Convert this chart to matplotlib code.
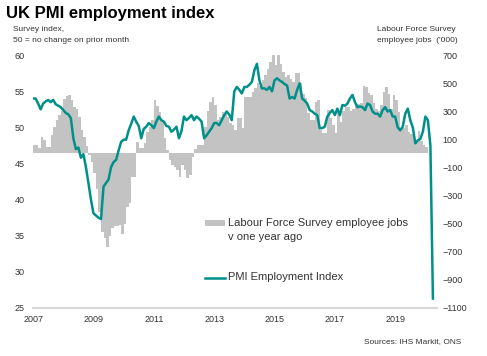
import numpy as np
import matplotlib
matplotlib.use('Agg')
import matplotlib.pyplot as plt
from matplotlib.patches import Rectangle
from matplotlib.lines import Line2D

plt.rcParams['font.family'] = ['Liberation Sans', 'DejaVu Sans']

# PMI employment index, monthly from Jan 2007 to Apr 2020
pmi = [
    54.0, 54.0, 53.3, 52.5, 53.3, 53.6, 53.8, 53.5, 53.8, 53.2, 53.0, 52.8,  # 2007
    52.4, 52.0, 51.8, 51.3, 48.5, 47.0, 47.2, 45.8, 46.3, 44.5, 42.3, 40.0,  # 2008
    38.1, 37.8, 37.5, 37.3, 41.8, 42.3, 42.8, 44.5, 45.2, 45.5, 46.8, 48.0,  # 2009
    48.3, 48.3, 49.6, 50.5, 51.5, 50.8, 50.2, 48.5, 49.8, 50.1, 50.6, 50.3,  # 2010
    49.9, 50.8, 51.5, 51.0, 50.8, 50.2, 50.1, 49.4, 49.7, 50.1, 48.5, 49.5,  # 2011
    51.5, 51.0, 51.3, 51.7, 51.0, 51.5, 51.2, 50.8, 48.5, 48.9, 49.4, 49.9,  # 2012
    50.6, 50.6, 50.3, 51.0, 51.7, 52.2, 51.8, 51.0, 55.0, 55.6, 55.2, 54.7,  # 2013
    55.6, 55.6, 55.9, 56.3, 57.9, 58.8, 56.5, 55.4, 55.4, 55.2, 55.6, 55.0,  # 2014
    56.5, 56.8, 56.5, 56.3, 56.0, 55.8, 54.0, 54.2, 54.0, 55.2, 56.1, 54.0,  # 2015
    53.7, 53.3, 52.4, 52.2, 51.9, 51.7, 49.9, 49.9, 50.1, 51.5, 52.0, 52.4,  # 2016
    51.7, 52.6, 51.7, 53.1, 53.0, 53.3, 54.0, 54.5, 53.5, 52.8, 52.9, 52.8,  # 2017
    52.4, 53.3, 53.1, 52.2, 51.9, 51.9, 51.5, 52.4, 52.8, 52.2, 52.4, 51.5,  # 2018
    51.5, 50.0, 49.6, 50.1, 51.9, 52.6, 51.0, 50.0, 47.8, 48.2, 48.4, 49.4,  # 2019
    51.5, 51.0, 47.5, 26.3,                                                  # 2020
]

# LFS employee jobs, change on one year ago ('000), monthly from Jan 2007
lfs = [
    60, 60, 40, 120, 95, 48, 48, 130, 190, 238, 273, 300,              # 2007
    390, 410, 415, 380, 330, 320, 260, 170, 120, 50, -10, -60,          # 2008
    -140, -250, -420, -560, -600, -665, -590, -530, -520, -520, -510, -570,  # 2009
    -500, -380, -355, -165, -165, 83, 36, 36, 72, 150, 190, 238,        # 2010
    380, 340, 297, 238, 107, 25, -47, -83, -95, -118, -166, -83,        # 2011
    -118, -177, -154, -23, 30, 60, 60, 60, 190, 300, 370, 403,          # 2012
    344, 238, 261, 297, 280, 261, 214, 200, 166, 250, 253, 180,         # 2013
    403, 400, 403, 440, 463, 500, 480, 522, 558, 600, 652, 700,         # 2014
    629, 700, 640, 581, 546, 558, 530, 510, 570, 570, 500, 427,         # 2015
    392, 285, 238, 238, 368, 380, 166, 143, 143, 309, 250, 200,         # 2016
    143, 297, 226, 300, 332, 330, 300, 320, 340, 350, 360, 480,         # 2017
    474, 430, 415, 356, 320, 300, 344, 439, 474, 427, 320, 415,         # 2018
    380, 297, 180, 180, 200, 150, 140, 119, 90, 160, 90, 60,            # 2019
    45,                                                                 # 2020
]

start_year = 2007
pmi_x = start_year + np.arange(len(pmi)) / 12
lfs_x = start_year + np.arange(len(lfs)) / 12

year_ticks = [2007, 2009, 2011, 2013, 2015, 2017, 2019]
left_ticks = [25, 30, 35, 40, 45, 50, 55, 60]
right_ticks = [-1100, -900, -700, -500, -300, -100, 100, 300, 500, 700]

teal = '#00908a'
grey_bar = '#c3c3c3'
text_col = '#333333'

fig = plt.figure(figsize=(4.87, 3.56), dpi=100)
ax = fig.add_axes([0.068, 0.135, 0.829, 0.71])
ax2 = ax.twinx()

# bars on the right axis, line on the left axis (line drawn on top)
ax2.bar(lfs_x, lfs, width=1 / 12, align='edge', color=grey_bar, linewidth=0)
ax2.set_zorder(1)
ax.set_zorder(2)
ax.patch.set_visible(False)
ax.plot(pmi_x, pmi, color=teal, linewidth=1.8, solid_joinstyle='round')

ax.set_xlim(2007, 2020.38)
ax.set_ylim(25, 60)
ax2.set_ylim(-1100, 700)
ax.set_xticks(year_ticks)
ax.set_yticks(left_ticks)
ax2.set_yticks(right_ticks)

for a in (ax, ax2):
    for s in a.spines.values():
        s.set_visible(False)
    a.tick_params(length=0, labelsize=6.5, labelcolor=text_col)
ax.spines['bottom'].set_visible(True)
ax.spines['bottom'].set_color('#d9d9d9')
ax.spines['bottom'].set_linewidth(1.5)
ax.tick_params(axis='y', pad=6)
ax.tick_params(axis='x', pad=5)
ax2.tick_params(axis='y', pad=4)

# Legend, placed by hand
fig.add_artist(Rectangle((0.421, 0.365), 0.041, 0.017, transform=fig.transFigure,
                         color=grey_bar, linewidth=0))
fig.add_artist(Line2D([0.421, 0.462], [0.219, 0.219], transform=fig.transFigure,
                      color=teal, linewidth=1.8))
fig.text(0.468, 0.373, 'Labour Force Survey employee jobs', fontsize=8,
         va='center', ha='left', color=text_col)
fig.text(0.468, 0.335, 'v one year ago', fontsize=8, va='center', ha='left',
         color=text_col)
fig.text(0.468, 0.221, 'PMI Employment Index', fontsize=8, va='center', ha='left',
         color=text_col)

# Titles and notes
fig.text(0.012, 0.982, 'UK PMI employment index', fontsize=12, fontweight='bold',
         va='top', ha='left', color='black')
fig.text(0.027, 0.926, 'Survey index,\n50 = no change on prior month', fontsize=6,
         va='top', ha='left', color=text_col, linespacing=1.7)
fig.text(0.774, 0.926, "Labour Force Survey\nemployee jobs  ('000)", fontsize=6,
         va='top', ha='left', color=text_col, linespacing=1.7)
fig.text(0.948, 0.03, 'Sources: IHS Markit, ONS', fontsize=6, va='bottom', ha='right',
         color=text_col)

plt.savefig('out.png', dpi=100)
